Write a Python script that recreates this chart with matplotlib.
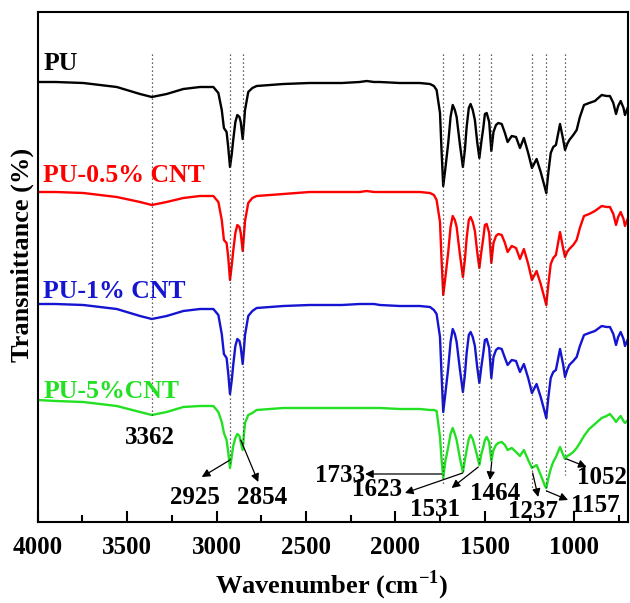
import matplotlib.pyplot as plt
from matplotlib.ticker import MultipleLocator

plt.rcParams['font.family'] = 'Liberation Serif'
plt.rcParams['font.weight'] = 'bold'
plt.rcParams['mathtext.fontset'] = 'custom'
plt.rcParams['mathtext.rm'] = 'Liberation Serif:bold'
plt.rcParams['mathtext.bf'] = 'Liberation Serif:bold'

# wavenumbers (cm-1)
wavenumber = [4000, 3900, 3745, 3558, 3428, 3362, 3279, 3186, 3093, 3018,
              2990, 2971, 2959, 2944, 2935, 2925, 2915, 2907, 2895, 2884,
              2872, 2865, 2854, 2847, 2841, 2823, 2800, 2776, 2627, 2480,
              2300, 2200, 2161, 2120, 2087, 1976, 1864, 1807, 1785, 1770,
              1751, 1742, 1733, 1722, 1705, 1692, 1680, 1668, 1658, 1640,
              1623, 1612, 1602, 1590, 1580, 1568, 1556, 1543, 1531, 1520,
              1509, 1500, 1490, 1476, 1464, 1452, 1438, 1425, 1406, 1388,
              1373, 1350, 1326, 1304, 1282, 1258, 1237, 1211, 1188, 1164,
              1157, 1145, 1132, 1118, 1103, 1080, 1062, 1052, 1040, 1028,
              1006, 987, 969, 946, 917, 885, 847, 820, 801, 782,
              767, 755, 741, 725, 717, 700]

# transmittance (stacked, arbitrary units)
pu = [440, 440, 439, 435, 428, 425, 428, 433, 435, 435,
      429, 412, 394, 390, 375, 355, 368, 382, 400, 407,
      405, 400, 383, 398, 412, 430, 434, 436, 438, 439,
      439, 440, 441, 440, 440, 439, 439, 438, 436, 432,
      409, 370, 336, 352, 379, 405, 417, 412, 405, 378,
      355, 372, 395, 414, 418, 412, 402, 380, 364, 380,
      394, 408, 409, 400, 371, 390, 397, 399, 398, 389,
      380, 386, 385, 374, 384, 369, 354, 363, 350, 334,
      329, 350, 369, 375, 377, 398, 382, 372, 378, 382,
      387, 392, 405, 417, 419, 421, 427, 426, 426, 419,
      408, 416, 421, 414, 407, 415]

pu_05cnt = [330, 330, 329, 325, 320, 317, 320, 324, 326, 326,
            320, 302, 282, 279, 265, 242, 257, 271, 289, 297,
            295, 289, 271, 287, 301, 319, 324, 326, 328, 330,
            330, 330, 331, 330, 330, 330, 330, 329, 327, 322,
            300, 261, 227, 243, 270, 295, 306, 302, 295, 268,
            245, 262, 284, 302, 305, 300, 291, 270, 254, 270,
            284, 297, 298, 289, 259, 279, 286, 288, 287, 279,
            270, 276, 274, 263, 273, 258, 242, 251, 238, 222,
            217, 238, 258, 264, 267, 290, 273, 265, 270, 273,
            277, 282, 294, 306, 308, 311, 316, 315, 315, 308,
            297, 305, 310, 303, 296, 304]

pu_1cnt = [218, 218, 217, 213, 206, 203, 206, 211, 213, 213,
           207, 188, 168, 164, 149, 128, 142, 157, 176, 183,
           181, 175, 158, 173, 187, 206, 211, 214, 216, 217,
           217, 218, 218, 218, 217, 216, 216, 215, 212, 208,
           185, 146, 110, 127, 154, 180, 193, 188, 180, 153,
           130, 147, 169, 187, 190, 185, 176, 155, 139, 155,
           169, 182, 183, 174, 144, 165, 172, 174, 173, 164,
           157, 162, 161, 150, 158, 144, 129, 138, 125, 109,
           104, 125, 144, 150, 152, 173, 157, 145, 152, 157,
           161, 165, 176, 187, 189, 191, 196, 195, 195, 188,
           177, 185, 190, 183, 176, 183]

pu_5cnt = [122, 121, 120, 116, 110, 107, 110, 115, 116, 116,
           110, 100, 89, 82, 70, 54, 66, 76, 84, 88,
           86, 80, 72, 88, 99, 107, 109, 112, 114, 114,
           114, 114, 114, 114, 114, 113, 113, 112, 112, 111,
           85, 62, 44, 60, 75, 88, 94, 88, 82, 64,
           50, 62, 72, 83, 87, 83, 75, 66, 57, 68,
           75, 82, 85, 80, 61, 72, 77, 79, 80, 77,
           72, 74, 70, 66, 72, 62, 54, 57, 47, 36,
           34, 44, 53, 60, 65, 75, 67, 63, 66, 67,
           70, 74, 79, 86, 93, 98, 104, 106, 108, 104,
           100, 103, 106, 101, 99, 102]

names = ["PU", "PU-0.5% CNT", "PU-1% CNT", "PU-5%CNT"]
peaks = [3362, 2925, 2854, 1733, 1623, 1531, 1464, 1237, 1157, 1052]

series = [pu, pu_05cnt, pu_1cnt, pu_5cnt]
colors = ["black", "#ff0000", "#1414d2", "#22e022"]
name_y = [458, 346, 231, 131]

fig = plt.figure(figsize=(6.3, 6.03), dpi=100)
ax = fig.add_axes([37.7 / 630, 81 / 603, 590.3 / 630, 510 / 603])

for ys, c, name, ny in zip(series, colors, names, name_y):
    ax.plot(wavenumber, ys, color=c, lw=1.7)
    ax.text(3970, ny, name, color=c, fontsize=18.5, ha="left", va="center")

# dotted guide lines, top end and bottom end
line_bottom = [104, 59, 75, 37, 50, 57, 62, 32, 29, 47]
for p, yb in zip(peaks, line_bottom):
    ax.plot([p, p], [468, yb], color="#333333", lw=0.9, linestyle=(0, (1, 2.2)))

# peak labels and arrows (arrow goes from the peak to the label)
label_xy = [(3372, 85), (3120, 25), (2748, 25), (2310, 47), (2105, 32),
            (1779, 12), (1444, 29), (1230, 10), (885, 17), (847, 44)]
arrow_from = [None, (2925, 62), (2865, 82), (1742, 48), (1624, 49),
              (1537, 55), (1462, 60), (1233, 49), (1155, 31), (1043, 63)]
arrow_to = [None, (3083, 45), (2767, 40), (2170, 48), (1947, 29),
            (1686, 34), (1472, 42), (1202, 25), (1035, 22), (931, 55)]

for p, (tx, ty), a, b in zip(peaks, label_xy, arrow_from, arrow_to):
    ax.text(tx, ty, str(p), fontsize=18, ha="center", va="center")
    if a is not None:
        ax.annotate("", xy=b, xytext=a,
                    arrowprops=dict(arrowstyle="-|>", color="black", lw=0.9,
                                    mutation_scale=12, shrinkA=0, shrinkB=0))

ax.set_xlim(4000, 700)
ax.set_ylim(0, 510)
ax.xaxis.set_major_locator(MultipleLocator(500))
ax.xaxis.set_minor_locator(MultipleLocator(250))
ax.set_yticks([])
ax.tick_params(axis="x", which="major", direction="in", length=8, width=1.5,
               labelsize=18, pad=10)
ax.tick_params(axis="x", which="minor", direction="in", length=5, width=1.5)
for s in ax.spines.values():
    s.set_linewidth(1.5)

fig.text(0.527, 1 - 593 / 603, r"Wavenumber (cm$^{-1}$)", fontsize=19,
         ha="center", va="baseline")
fig.text(22 / 630, 1 - 255 / 603, "Transmittance (%)", fontsize=19,
         rotation=90, ha="center", va="center")

plt.savefig("out.png", dpi=100)
